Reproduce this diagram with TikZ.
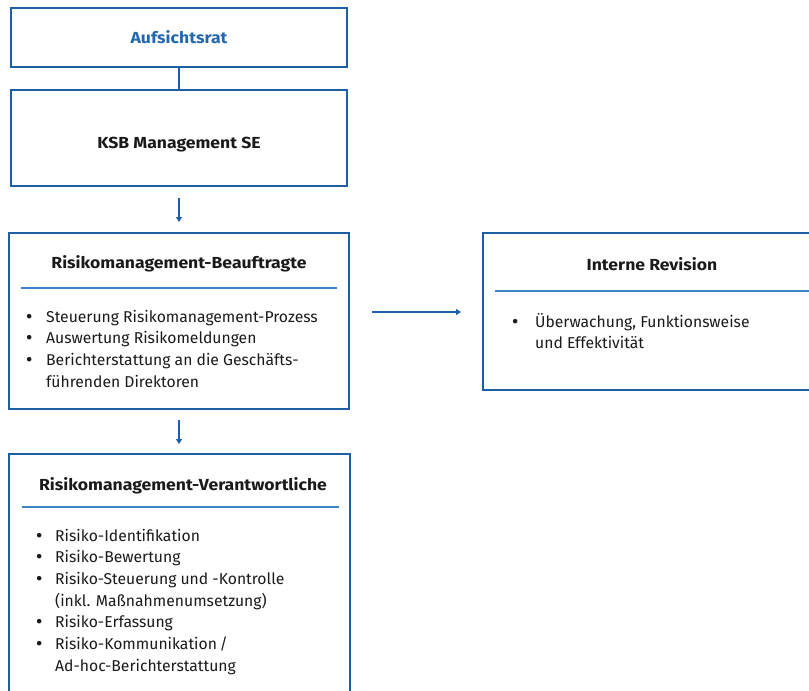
\documentclass[tikz,border=0pt]{standalone}
\usepackage{fontspec}
\setmainfont{Fira Sans}
\newfontfamily\bulfont{DejaVu Sans}
\usetikzlibrary{arrows.meta}
\definecolor{kblue}{HTML}{1D5FA3}
\definecolor{ktitle}{HTML}{2268AE}
\definecolor{ksep}{HTML}{3E84C2}
\definecolor{ktext}{HTML}{1A1A1A}
\tikzset{
  box/.style={draw=kblue, line width=2pt, rectangle, inner sep=0pt},
  sepline/.style={draw=ksep, line width=1.3pt},
  conn/.style={draw=kblue, line width=1.3pt},
  arr/.style={conn, -{Triangle[width=6pt,length=5pt]}},
  ttl/.style={anchor=base, inner sep=0pt, font=\fontsize{16}{18}\selectfont\bfseries, text=ktext},
  lst/.style={anchor=base west, inner sep=0pt, font=\fontsize{15.7}{21.7}\selectfont, text=ktext}
}
\newcommand{\blt}{\makebox[0pt][c]{\bulfont •}}
\newcommand{\wt}[1]{\scalebox{1.10}[1]{#1}}
\begin{document}
\begin{tikzpicture}[x=1pt,y=-1pt]
\useasboundingbox (0,0) rectangle (809,691);
\clip (0,0) rectangle (809,691);
% boxes
\node[box, minimum width=336pt, minimum height=59pt] (auf) at (179,37.5) {};
\node[box, minimum width=336pt, minimum height=96pt] (ksb) at (179,138) {};
\node[box, minimum width=340pt, minimum height=176pt] (rb) at (179,321) {};
\node[box, minimum width=360pt, minimum height=157pt] (ir) at (663,311.5) {};
\node[box, minimum width=341pt, minimum height=260pt] (rv) at (179.5,584) {};
% titles
\node[ttl, text=ktitle] (tauf) at (179,43) {\wt{Aufsichtsrat}};
\node[ttl] (tksb) at (179,148) {\wt{KSB Management SE}};
\node[ttl] (trb) at (179,268) {\wt{Risikomanagement-Beauftragte}};
\node[ttl] (tir) at (652,270) {\wt{Interne Revision}};
\node[ttl] (trv) at (183,490) {\wt{Risikomanagement-Verantwortliche}};
% separators
\coordinate (s1a) at (21,288); \coordinate (s1b) at (337,288);
\coordinate (s2a) at (495,291); \coordinate (s2b) at (815,291);
\coordinate (s3a) at (22,507); \coordinate (s3b) at (339,507);
\draw[sepline] (s1a) -- (s1b);
\draw[sepline] (s2a) -- (s2b);
\draw[sepline] (s3a) -- (s3b);
% lists
\node[lst] (lrb) at (29,322) {\begin{tabular}[t]{@{}p{17pt}@{}l@{}}
\blt & Steuerung Risikomanagement-Prozess\\
\blt & Auswertung Risikomeldungen\\
\blt & Berichterstattung an die Geschäfts-\\
 & führenden Direktoren
\end{tabular}};
\node[lst] (lir) at (515,327) {\begin{tabular}[t]{@{}p{20pt}@{}l@{}}
\blt & Überwachung, Funktionsweise\\
 & und Effektivität
\end{tabular}};
\node[lst] (lrv) at (39,541) {\begin{tabular}[t]{@{}p{16pt}@{}l@{}}
\blt & Risiko-Identifikation\\
\blt & Risiko-Bewertung\\
\blt & Risiko-Steuerung und -Kontrolle\\
 & (inkl. Maßnahmenumsetzung)\\
\blt & Risiko-Erfassung\\
\blt & Risiko-Kommunikation\,/\\
 & Ad-hoc-Berichterstattung
\end{tabular}};
% connectors
\draw[conn] (auf.south) -- (ksb.north);
\coordinate (a1s) at (179,198); \coordinate (a1e) at (179,222);
\draw[arr] (a1s) -- (a1e);
\coordinate (a2s) at (179,420); \coordinate (a2e) at (179,444);
\draw[arr] (a2s) -- (a2e);
\coordinate (a3s) at (372,312); \coordinate (a3e) at (461,312);
\draw[arr] (a3s) -- (a3e);
\end{tikzpicture}
\end{document}
